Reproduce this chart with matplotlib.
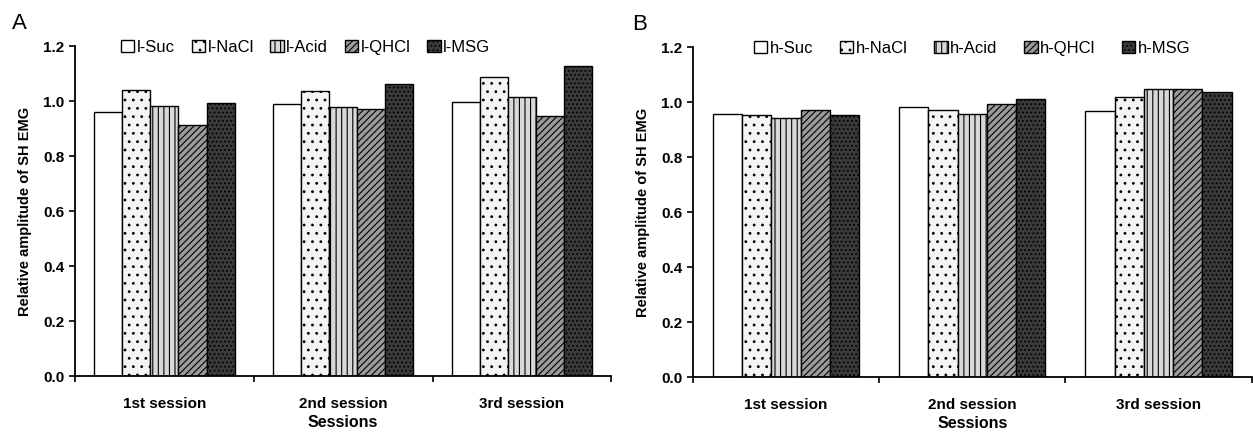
import matplotlib.pyplot as plt
import numpy as np

plt.rcParams['font.family'] = ['Liberation Sans', 'DejaVu Sans']
plt.rcParams['hatch.linewidth'] = 0.8

sessions = ['1st session', '2nd session', '3rd session']

# panel A: low concentration
low_labels = ['l-Suc', 'l-NaCl', 'l-Acid', 'l-QHCl', 'l-MSG']
low_suc = [0.96, 0.99, 0.997]
low_nacl = [1.04, 1.037, 1.088]
low_acid = [0.983, 0.979, 1.016]
low_qhcl = [0.912, 0.973, 0.947]
low_msg = [0.994, 1.064, 1.127]

# panel B: high concentration
high_labels = ['h-Suc', 'h-NaCl', 'h-Acid', 'h-QHCl', 'h-MSG']
high_suc = [0.957, 0.983, 0.969]
high_nacl = [0.952, 0.972, 1.02]
high_acid = [0.943, 0.957, 1.048]
high_qhcl = [0.972, 0.995, 1.048]
high_msg = [0.954, 1.013, 1.037]

# fill / hatch per taste
styles = [
    dict(facecolor='white', hatch=None),
    dict(facecolor='#f4f4f4', hatch='..'),
    dict(facecolor='#d8d8d8', hatch='|||'),
    dict(facecolor='#9a9a9a', hatch='/////'),
    dict(facecolor='#3a3a3a', hatch='....'),
]

fig = plt.figure(figsize=(12.53, 4.34), dpi=100)
axA = fig.add_axes([0.0599, 0.1336, 0.428, 0.760])
axB = fig.add_axes([0.553, 0.1313, 0.446, 0.760])


def draw(ax, series, labels, letter, legend_x, letter_x, colsp):
    x = np.arange(len(sessions))
    w = 0.157
    for i, (vals, lab, st) in enumerate(zip(series, labels, styles)):
        ax.bar(x + (i - 2) * w, vals, w, label=lab, edgecolor='black',
               linewidth=1.0, **st)
    ax.set_xlim(-0.5, 2.5)
    ax.set_ylim(0, 1.2)
    ax.set_yticks(np.arange(0, 1.21, 0.2))
    ax.set_yticklabels(['%.1f' % v for v in np.arange(0, 1.21, 0.2)],
                       fontweight='bold', fontsize=11)
    ax.set_xticks(x)
    ax.set_xticklabels(sessions, fontweight='bold', fontsize=11)
    ax.set_xticks([-0.5, 0.5, 1.5, 2.5], minor=True)
    ax.tick_params(axis='x', which='major', length=0, pad=15)
    ax.tick_params(axis='x', which='minor', length=4, width=1.2, direction='out')
    ax.tick_params(axis='y', length=4, width=1.2, direction='out')
    for s in ['top', 'right']:
        ax.spines[s].set_visible(False)
    for s in ['left', 'bottom']:
        ax.spines[s].set_linewidth(1.3)
    ax.set_ylabel('Relative amplitude of SH EMG', fontweight='bold',
                  fontsize=10.5, labelpad=8)
    ax.set_xlabel('Sessions', fontweight='bold', fontsize=11.5, labelpad=3)
    ax.legend(loc='upper center', bbox_to_anchor=(legend_x, 1.065), ncol=5,
              frameon=False, fontsize=12, handlelength=0.8, handleheight=0.8,
              handletextpad=0.15, columnspacing=colsp)
    ax.text(letter_x, 1.07, letter, transform=ax.transAxes, fontsize=16,
            va='center')


draw(axA, [low_suc, low_nacl, low_acid, low_qhcl, low_msg], low_labels,
     'A', 0.43, -0.118, 1.0)
draw(axB, [high_suc, high_nacl, high_acid, high_qhcl, high_msg], high_labels,
     'B', 0.50, -0.108, 1.6)

fig.savefig('out.png', dpi=100)
